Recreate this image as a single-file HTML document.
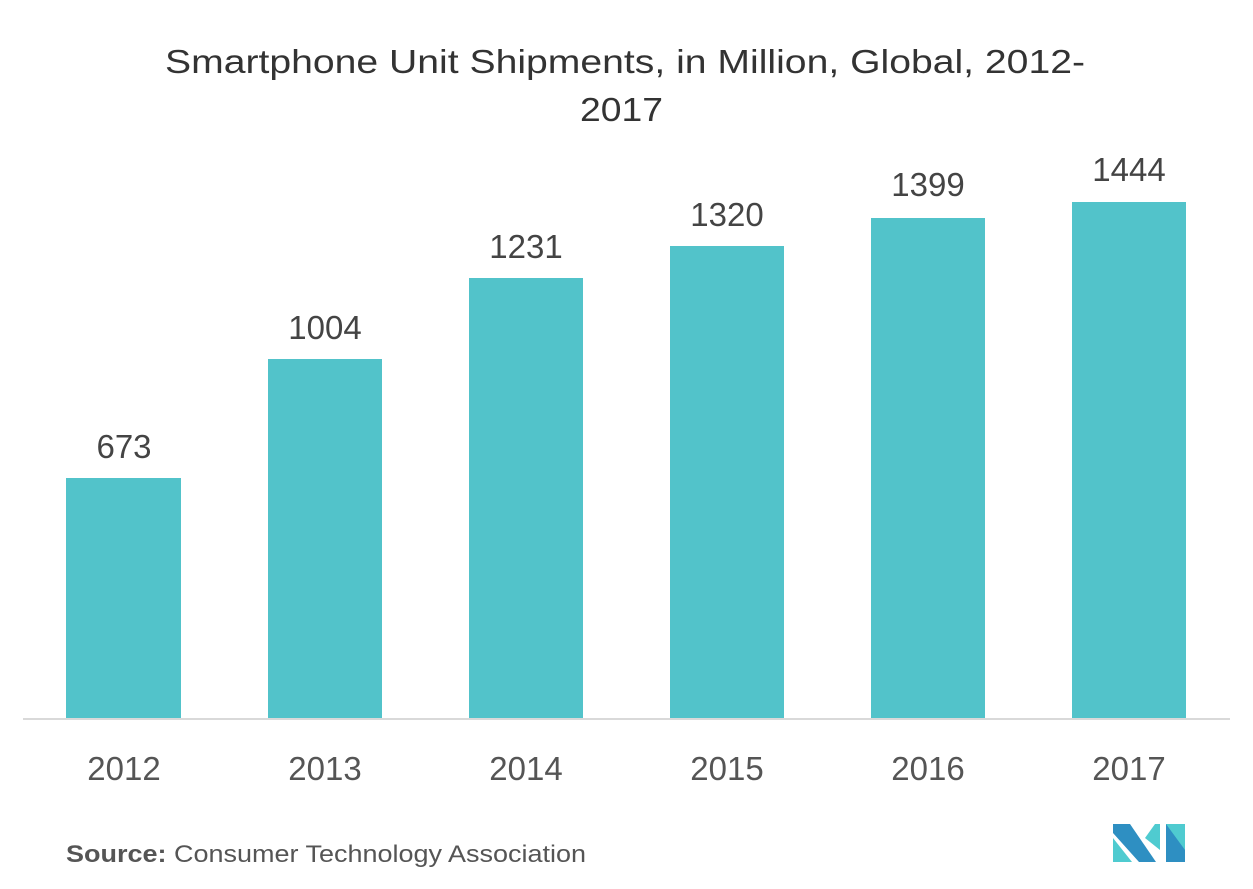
<!DOCTYPE html>
<html><head><meta charset="utf-8"><style>
html,body{margin:0;padding:0;background:#fff}
svg{display:block}
</style></head><body>
<svg width="1253" height="889" xmlns="http://www.w3.org/2000/svg" font-family="Liberation Sans, sans-serif">
<text x="165" y="73" font-size="33" fill="#333" textLength="920" lengthAdjust="spacingAndGlyphs">Smartphone Unit Shipments, in Million,  Global, 2012-</text>
<text x="580" y="121" font-size="33" fill="#333" textLength="83" lengthAdjust="spacingAndGlyphs">2017</text>
<g fill="#52c3ca">
<rect x="66" y="478" width="115" height="240"/>
<rect x="268" y="359" width="114" height="359"/>
<rect x="469" y="278" width="114" height="440"/>
<rect x="670" y="246" width="114" height="472"/>
<rect x="871" y="218" width="114" height="500"/>
<rect x="1072" y="202" width="114" height="516"/>
</g>
<rect x="23" y="718" width="1207" height="2" fill="#d9d9d9"/>
<g font-size="33" fill="#444" text-anchor="middle">
<text x="124" y="458">673</text>
<text x="325" y="339">1004</text>
<text x="526" y="258">1231</text>
<text x="727" y="226">1320</text>
<text x="928" y="196">1399</text>
<text x="1129" y="181">1444</text>
</g>
<g font-size="33" fill="#555" text-anchor="middle">
<text x="124" y="780">2012</text>
<text x="325" y="780">2013</text>
<text x="526" y="780">2014</text>
<text x="727" y="780">2015</text>
<text x="928" y="780">2016</text>
<text x="1129" y="780">2017</text>
</g>
<text x="66" y="862" font-size="24" fill="#555" textLength="520" lengthAdjust="spacingAndGlyphs"><tspan font-weight="bold">Source:</tspan> Consumer Technology Association</text>
<g>
<polygon points="1113,824 1130,824 1156,862 1139,862 1113,833" fill="#2e8fc2"/>
<polygon points="1113,838 1132,862 1113,862" fill="#4fcbd0"/>
<polygon points="1145,838 1155,824 1160,824 1160,850" fill="#4fcbd0"/>
<polygon points="1166,824 1185,824 1185,862 1166,862" fill="#2e8fc2"/>
<polygon points="1166,824 1185,824 1185,850" fill="#4fcbd0"/>
</g>
</svg>
</body></html>
